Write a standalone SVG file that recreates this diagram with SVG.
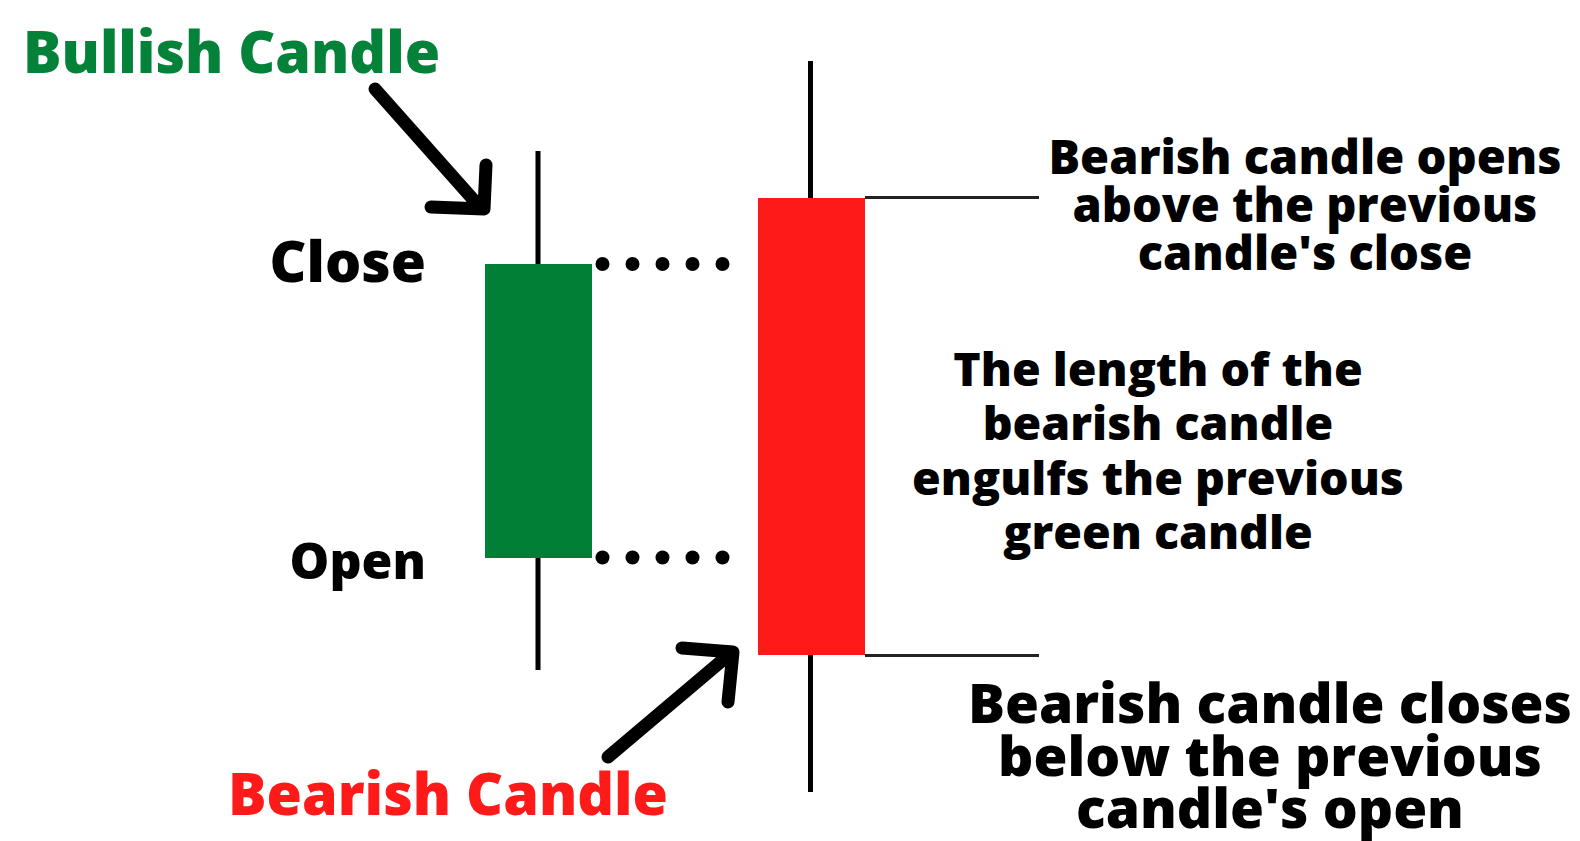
<svg xmlns="http://www.w3.org/2000/svg" width="1580" height="841" viewBox="0 0 1580 841">
  <style>
    text { font-family: "Open Sans", "Noto Sans", "DejaVu Sans", sans-serif; font-weight: 800; }
    .title { font-size: 59px; }
    .lbl { font-size: 57px; fill: #000; }
    .note { font-size: 47px; fill: #000; text-anchor: middle; }
    .mid { font-size: 46.5px; }
    .big { font-size: 55px; }
    .wick { stroke: #000; stroke-width: 5; }
    .guide { stroke: #222; stroke-width: 3; }
    .dot { fill: #000; }
    .arrow { fill: none; stroke: #000; stroke-width: 13; stroke-linecap: round; stroke-linejoin: round; }
  </style>
  <rect width="1580" height="841" fill="#fff"/>

  <!-- bullish (green) candle -->
  <g id="bullish-candle">
    <line class="wick" x1="538" y1="151" x2="538" y2="670"/>
    <rect x="485" y="264" width="107" height="294" fill="#027f36"/>
  </g>

  <!-- bearish (red) candle -->
  <g id="bearish-candle">
    <line class="wick" x1="810.5" y1="61" x2="810.5" y2="792"/>
    <rect x="758" y="198" width="107" height="457" fill="#ff1a1a"/>
  </g>

  <!-- level guides and pointers -->
  <g id="connectors">
    <g id="close-dots">
      <circle class="dot" cx="602.5" cy="264" r="7"/>
      <circle class="dot" cx="632.5" cy="264" r="7"/>
      <circle class="dot" cx="662.5" cy="264" r="7"/>
      <circle class="dot" cx="692.5" cy="264" r="7"/>
      <circle class="dot" cx="722.5" cy="264" r="7"/>
    </g>
    <g id="open-dots">
      <circle class="dot" cx="602.5" cy="557.5" r="7"/>
      <circle class="dot" cx="632.5" cy="557.5" r="7"/>
      <circle class="dot" cx="662.5" cy="557.5" r="7"/>
      <circle class="dot" cx="692.5" cy="557.5" r="7"/>
      <circle class="dot" cx="722.5" cy="557.5" r="7"/>
    </g>
    <line class="guide" x1="865" y1="197.5" x2="1039" y2="197.5"/>
    <line class="guide" x1="865" y1="655.5" x2="1039" y2="655.5"/>
    <path class="arrow" d="M375,89 L479,206 M486,165 L484,209 L431,207"/>
    <path class="arrow" d="M608,757 L731,653 M682,648 L733,652 L728,702"/>
  </g>

  <!-- labels -->
  <g id="label-bullish">
    <text class="title" x="23" y="73" fill="#04823a" textLength="417" lengthAdjust="spacingAndGlyphs">Bullish Candle</text>
  </g>
  <g id="label-bearish">
    <text class="title" x="228" y="815" fill="#ff1a1a" textLength="440" lengthAdjust="spacingAndGlyphs">Bearish Candle</text>
  </g>
  <g id="label-close">
    <text class="lbl" x="426" y="282" text-anchor="end">Close</text>
  </g>
  <g id="label-open">
    <text class="lbl" x="426" y="579" text-anchor="end" style="font-size:50px">Open</text>
  </g>
  <g id="note-open">
    <text class="note" x="1305" y="174">Bearish candle opens</text>
    <text class="note" x="1305" y="222">above the previous</text>
    <text class="note" x="1305" y="270">candle's close</text>
  </g>
  <g id="note-length">
    <text class="note mid" x="1158" y="386">The length of the</text>
    <text class="note mid" x="1158" y="440">bearish candle</text>
    <text class="note mid" x="1158" y="495">engulfs the previous</text>
    <text class="note mid" x="1158" y="549">green candle</text>
  </g>
  <g id="note-close">
    <text class="note big" x="1270" y="723">Bearish candle closes</text>
    <text class="note big" x="1270" y="776">below the previous</text>
    <text class="note big" x="1270" y="828">candle's open</text>
  </g>
</svg>
